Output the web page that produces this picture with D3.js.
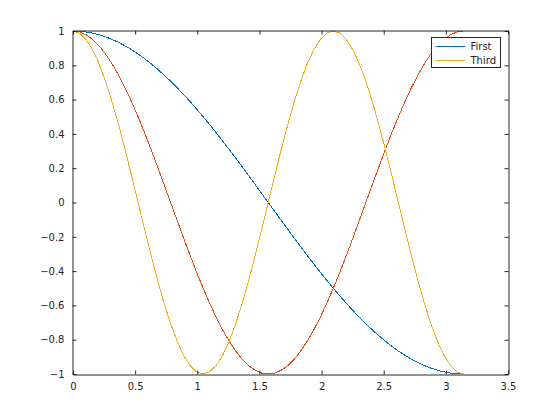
<!DOCTYPE html>
<html>
<head>
<meta charset="utf-8">
<script src="https://cdn.jsdelivr.net/npm/d3@7"></script>
<style>
  html, body { margin: 0; padding: 0; background: #ffffff; }
  svg { display: block; }
  text { font-family: "DejaVu Sans", sans-serif; }
</style>
</head>
<body>
<svg id="chart" width="560" height="420"></svg>
<script>
// ---- data ----
const xValues = [0,0.0524,0.1047,0.1571,0.2094,0.2618,0.3142,0.3665,0.4189,0.4712,
  0.5236,0.5760,0.6283,0.6807,0.7330,0.7854,0.8378,0.8901,0.9425,0.9948,
  1.0472,1.0996,1.1519,1.2043,1.2566,1.3090,1.3614,1.4137,1.4661,1.5184,
  1.5708,1.6232,1.6755,1.7279,1.7802,1.8326,1.8850,1.9373,1.9897,2.0420,
  2.0944,2.1468,2.1991,2.2515,2.3038,2.3562,2.4086,2.4609,2.5133,2.5656,
  2.6180,2.6704,2.7227,2.7751,2.8274,2.8798,2.9322,2.9845,3.0369,3.0892,3.1416];

const yFirst = [1,0.9986,0.9945,0.9877,0.9781,0.9659,0.9511,0.9336,0.9135,0.8910,
  0.8660,0.8387,0.8090,0.7771,0.7431,0.7071,0.6691,0.6293,0.5878,0.5446,
  0.5000,0.4540,0.4067,0.3584,0.3090,0.2588,0.2079,0.1564,0.1045,0.0523,
  0,-0.0523,-0.1045,-0.1564,-0.2079,-0.2588,-0.3090,-0.3584,-0.4067,-0.4540,
  -0.5000,-0.5446,-0.5878,-0.6293,-0.6691,-0.7071,-0.7431,-0.7771,-0.8090,-0.8387,
  -0.8660,-0.8910,-0.9135,-0.9336,-0.9511,-0.9659,-0.9781,-0.9877,-0.9945,-0.9986,-1];

const ySecond = [1,0.9945,0.9781,0.9511,0.9135,0.8660,0.8090,0.7431,0.6691,0.5878,
  0.5000,0.4067,0.3090,0.2079,0.1045,0,-0.1045,-0.2079,-0.3090,-0.4067,
  -0.5000,-0.5878,-0.6691,-0.7431,-0.8090,-0.8660,-0.9135,-0.9511,-0.9781,-0.9945,
  -1,-0.9945,-0.9781,-0.9511,-0.9135,-0.8660,-0.8090,-0.7431,-0.6691,-0.5878,
  -0.5000,-0.4067,-0.3090,-0.2079,-0.1045,0,0.1045,0.2079,0.3090,0.4067,
  0.5000,0.5878,0.6691,0.7431,0.8090,0.8660,0.9135,0.9511,0.9781,0.9945,1];

const yThird = [1,0.9877,0.9511,0.8910,0.8090,0.7071,0.5878,0.4540,0.3090,0.1564,
  0,-0.1564,-0.3090,-0.4540,-0.5878,-0.7071,-0.8090,-0.8910,-0.9511,-0.9877,
  -1,-0.9877,-0.9511,-0.8910,-0.8090,-0.7071,-0.5878,-0.4540,-0.3090,-0.1564,
  0,0.1564,0.3090,0.4540,0.5878,0.7071,0.8090,0.8910,0.9511,0.9877,
  1,0.9877,0.9511,0.8910,0.8090,0.7071,0.5878,0.4540,0.3090,0.1564,
  0,-0.1564,-0.3090,-0.4540,-0.5878,-0.7071,-0.8090,-0.8910,-0.9511,-0.9877,-1];

const xTicks = [0,0.5,1,1.5,2,2.5,3,3.5];
const yTicks = [-1,-0.8,-0.6,-0.4,-0.2,0,0.2,0.4,0.6,0.8,1];

const seriesNames = ["First", "Second", "Third"];
const seriesColors = ["#0072BD", "#D95319", "#EDB120"];
const legendNames = ["First", "Third"];

// ---- layout ----
const svg = d3.select("#chart");
const L = 73, R = 508, T = 31, B = 374;
const x = d3.scaleLinear().domain([0, 3.5]).range([L, R]);
const y = d3.scaleLinear().domain([-1, 1]).range([B, T]);
const axisColor = "#262626";

const series = [
  {name: seriesNames[0], ys: yFirst, color: seriesColors[0]},
  {name: seriesNames[1], ys: ySecond, color: seriesColors[1]},
  {name: seriesNames[2], ys: yThird, color: seriesColors[2]}
];

const line = d3.line().x(d => x(d[0])).y(d => y(d[1]));
const lines = svg.append("g");
series.forEach(s => {
  lines.append("path")
    .datum(xValues.map((v, i) => [v, s.ys[i]]))
    .attr("fill", "none")
    .attr("stroke", s.color)
    .attr("stroke-width", 1)
    .attr("shape-rendering", "crispEdges")
    .attr("d", line);
});

function styleAxis(g) {
  g.select(".domain").attr("stroke", axisColor).attr("stroke-width", 1);
  g.selectAll(".tick line").attr("stroke", axisColor);
  g.selectAll(".tick text").attr("fill", axisColor).attr("font-size", 10)
    .attr("font-family", "DejaVu Sans, sans-serif");
}

const fmt = d => d3.format("")(d);
const xAxis = d3.axisBottom(x).tickValues(xTicks).tickSizeInner(-4).tickSizeOuter(0).tickPadding(8).tickFormat(fmt);
svg.append("g").attr("transform", `translate(0,${B + 0.5})`).call(xAxis).call(styleAxis);

const yAxis = d3.axisLeft(y).tickValues(yTicks).tickSizeInner(-4).tickSizeOuter(0).tickPadding(8).tickFormat(fmt);
svg.append("g").attr("transform", `translate(${L - 0.5},0)`).call(yAxis).call(styleAxis);

const xTop = d3.axisTop(x).tickValues(xTicks).tickSizeInner(-4).tickSizeOuter(0).tickFormat("");
svg.append("g").attr("transform", `translate(0,${T - 0.5})`).call(xTop).call(styleAxis);

const yRight = d3.axisRight(y).tickValues(yTicks).tickSizeInner(-4).tickSizeOuter(0).tickFormat("");
svg.append("g").attr("transform", `translate(${R + 0.5},0)`).call(yRight).call(styleAxis);

// legend
const lg = svg.append("g");
const lx = 431.5, ly = 37.5, lw = 69, lh = 30;
lg.append("rect").attr("x", lx).attr("y", ly).attr("width", lw).attr("height", lh)
  .attr("fill", "#ffffff").attr("stroke", axisColor).attr("stroke-width", 1);
legendNames.forEach((nm, i) => {
  const s = series.find(q => q.name === nm);
  const yy = ly + 9 + i * 14;
  lg.append("line").attr("x1", lx + 4).attr("x2", lx + 34).attr("y1", yy).attr("y2", yy)
    .attr("stroke", s.color).attr("stroke-width", 1);
  lg.append("text").attr("x", lx + 39).attr("y", yy).attr("dy", "0.35em")
    .attr("font-size", 10).attr("fill", axisColor).text(nm);
});
</script>
</body>
</html>
